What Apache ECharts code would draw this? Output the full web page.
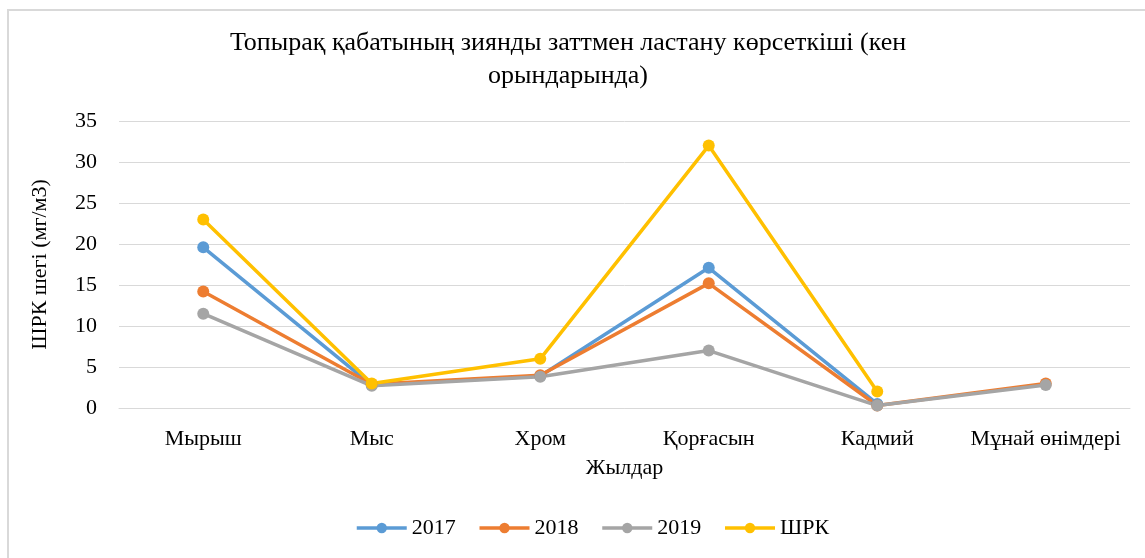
<!DOCTYPE html>
<html>
<head>
<meta charset="utf-8">
<script src="https://cdn.jsdelivr.net/npm/echarts@6/dist/echarts.min.js"></script>
<style>
  html, body { margin: 0; padding: 0; background: #fff; }
  #chart { width: 1145px; height: 558px; }
</style>
</head>
<body>
<div id="chart"></div>
<script>
var categories = ['Мырыш', 'Мыс', 'Хром', 'Қорғасын', 'Кадмий', 'Мұнай өнімдері'];
var s2017 = [19.6, 2.8, 3.9, 17.1, 0.5, null];
var s2018 = [14.2, 2.9, 4.0, 15.2, 0.3, 3.0];
var s2019 = [11.5, 2.7, 3.8, 7.0, 0.3, 2.8];
var sShrk = [23.0, 3.0, 6.0, 32.0, 2.0, null];
var seriesNames = ['2017', '2018', '2019', 'ШРК'];
var colors = ['#5b9bd5', '#ed7d31', '#a5a5a5', '#ffc000'];

var font = '"Liberation Serif", "Times New Roman", serif';

function lineSeries(name, data) {
    return {
        name: name,
        type: 'line',
        data: data,
        symbol: 'circle',
        symbolSize: 12,
        lineStyle: { width: 3.5 },
        connectNulls: false
    };
}

var myChart = echarts.init(document.getElementById('chart'));

var option = {
    color: colors,
    animation: false,
    textStyle: { fontFamily: font },
    title: {
        text: 'Топырақ қабатының зиянды заттмен ластану көрсеткіші (кен\nорындарында)',
        left: 563,
        top: 22,
        textAlign: 'center',
        textStyle: {
            fontFamily: font,
            fontSize: 26,
            fontWeight: 'normal',
            color: '#000',
            lineHeight: 33
        }
    },
    graphic: [{
        type: 'rect',
        shape: { x: 8, y: 10, width: 1200, height: 600 },
        style: { fill: 'none', stroke: '#d9d9d9', lineWidth: 2 },
        silent: true
    }],
    legend: {
        data: seriesNames,
        bottom: 14,
        left: 350,
        itemWidth: 50,
        itemHeight: 13,
        itemGap: 22,
        lineStyle: { width: 3.5 },
        textStyle: { fontFamily: font, fontSize: 22, color: '#000' }
    },
    grid: {
        left: 119,
        right: 15,
        top: 121,
        bottom: 150
    },
    xAxis: {
        type: 'category',
        data: categories,
        name: 'Жылдар',
        nameLocation: 'middle',
        nameGap: 49,
        nameTextStyle: { fontFamily: font, fontSize: 22, color: '#000' },
        axisLine: { show: true, lineStyle: { color: '#d9d9d9', width: 1 } },
        axisTick: { show: false },
        axisLabel: { fontFamily: font, fontSize: 22, color: '#000', margin: 20, interval: 0 }
    },
    yAxis: {
        type: 'value',
        min: 0,
        max: 35,
        interval: 5,
        name: 'ШРК шегі (мг/м3)',
        nameLocation: 'middle',
        nameGap: 68,
        nameTextStyle: { fontFamily: font, fontSize: 22, color: '#000' },
        axisLine: { show: false },
        axisTick: { show: false },
        axisLabel: { fontFamily: font, fontSize: 22, color: '#000', margin: 22 },
        splitLine: { lineStyle: { color: '#d9d9d9', width: 1 } }
    },
    series: [
        lineSeries(seriesNames[0], s2017),
        lineSeries(seriesNames[1], s2018),
        lineSeries(seriesNames[2], s2019),
        lineSeries(seriesNames[3], sShrk)
    ]
};

myChart.setOption(option);
</script>
</body>
</html>
